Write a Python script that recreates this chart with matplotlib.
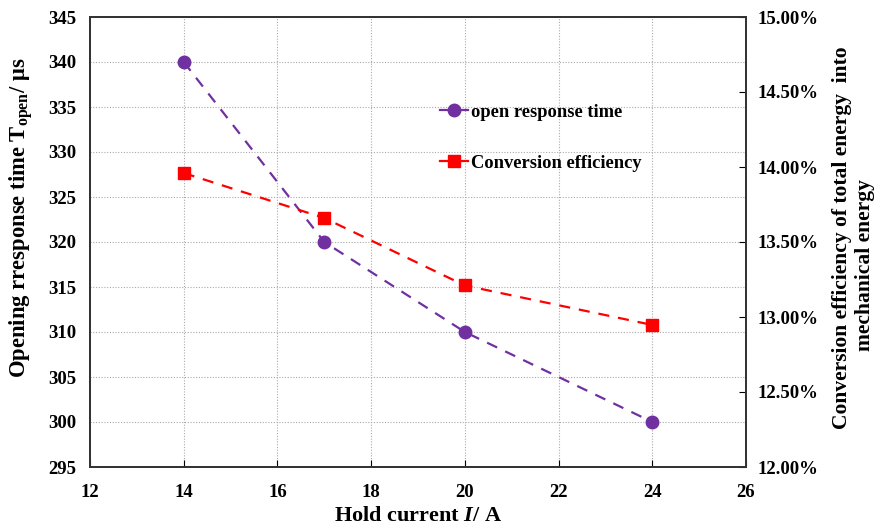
import matplotlib
matplotlib.use("Agg")
import matplotlib.pyplot as plt
from matplotlib.ticker import FuncFormatter
from matplotlib.lines import Line2D

current = [14, 17, 20, 24]
response_time = [340, 320, 310, 300]
efficiency = [13.96, 13.66, 13.21, 12.947]

plt.rcParams['font.family'] = ['Liberation Serif', 'DejaVu Serif']
plt.rcParams['font.weight'] = 'bold'
plt.rcParams['mathtext.fontset'] = 'custom'
plt.rcParams['mathtext.rm'] = 'Liberation Serif:bold'
plt.rcParams['mathtext.it'] = 'Liberation Serif:bold:italic'
plt.rcParams['mathtext.bf'] = 'Liberation Serif:bold'

purple = '#7030A0'
red = '#FF0000'

W, H = 882, 528
fig = plt.figure(figsize=(W/100, H/100), dpi=100)
ax = fig.add_axes([90/W, 1-467/H, 656/W, 450/H])
ax2 = ax.twinx()

ax.plot(current, response_time, color=purple, ls=(0, (5, 4)), lw=1.6,
        marker='o', ms=9, zorder=3)
ax2.plot(current, efficiency, color=red, ls=(0, (5, 4)), lw=1.6,
         marker='s', ms=8, zorder=3)

ax.set_xlim(12, 26)
ax.set_ylim(295, 345)
ax2.set_ylim(12, 15)
ax.set_xticks(range(12, 27, 2))
ax.set_yticks(range(295, 346, 5))
ax2.set_yticks([12, 12.5, 13, 13.5, 14, 14.5, 15])
ax2.yaxis.set_major_formatter(FuncFormatter(lambda v, p: f"{v:.2f}%"))

ax.grid(True, color='#aaaaaa', ls=(0, (1, 1.5)), lw=0.8)
ax.set_axisbelow(True)

for a in (ax, ax2):
    for s in a.spines.values():
        s.set_linewidth(1.3)
        s.set_color('#333333')
ax.tick_params(axis='x', direction='in', length=5, labelsize=13.5, pad=12)
ax.tick_params(axis='y', direction='in', length=0, labelsize=13.5, pad=10)
ax2.tick_params(axis='y', direction='in', length=5, labelsize=13.5, pad=8)
for lab in ax.get_xticklabels() + ax.get_yticklabels() + ax2.get_yticklabels():
    lab.set_fontweight('bold')

ax.set_xlabel(r"Hold current $I$/ A", fontsize=16, fontweight='bold', labelpad=4)

fig.text(21/W, 1-218/H, r"Opening rresponse time T$_{\mathrm{open}}$/ μs",
         fontsize=16.3, fontweight='bold', rotation=90, ha='center', va='center')
fig.text(842/W, 1-238/H, "Conversion efficiency of total energy  into",
         fontsize=15.5, fontweight='bold', rotation=90, ha='center', va='center')
fig.text(865/W, 1-265/H, "mechanical energy",
         fontsize=15.5, fontweight='bold', rotation=90, ha='center', va='center')

handles = [Line2D([], [], color=purple, lw=1.6, marker='o', ms=9),
           Line2D([], [], color=red, lw=1.6, marker='s', ms=8)]
leg = ax.legend(handles, ["open response time", "Conversion efficiency"],
                loc='upper left', bbox_to_anchor=(333/656, 1-70/450),
                frameon=False, handlelength=1.55, handletextpad=0.15,
                labelspacing=1.85, prop={'size': 13.3, 'weight': 'bold'})

fig.savefig("out.png", dpi=100)
